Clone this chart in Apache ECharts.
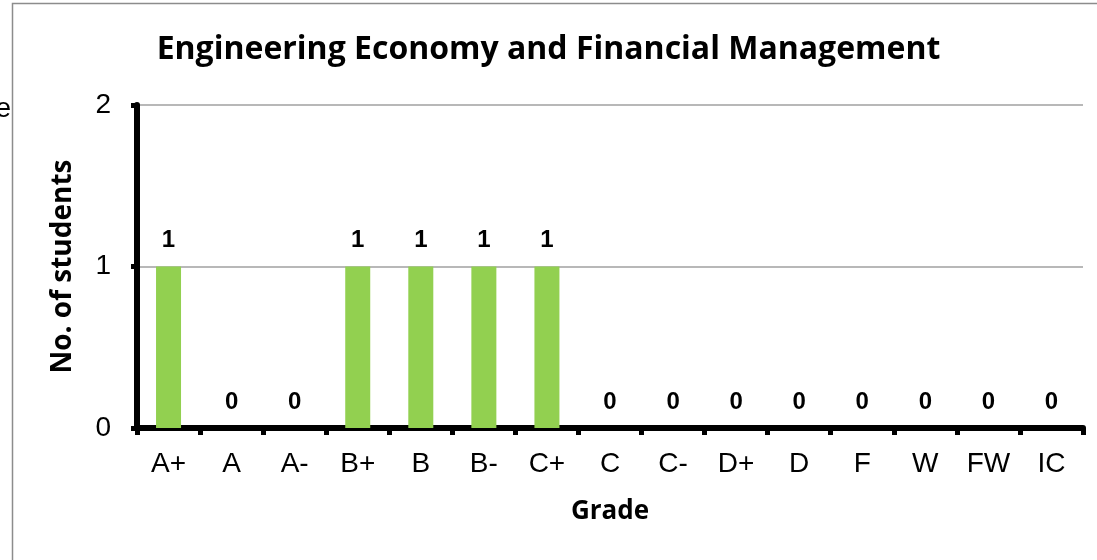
<!DOCTYPE html>
<html>
<head>
<meta charset="utf-8">
<script src="https://cdn.jsdelivr.net/npm/echarts@6/dist/echarts.min.js"></script>
<style>
  html, body { margin: 0; padding: 0; background: #fff; }
  #chart { width: 1097px; height: 560px; }
</style>
</head>
<body>
<div id="chart"></div>
<script>
const grades = ['A+', 'A', 'A-', 'B+', 'B', 'B-', 'C+', 'C', 'C-', 'D+', 'D', 'F', 'W', 'FW', 'IC']
const students = [1, 0, 0, 1, 1, 1, 1, 0, 0, 0, 0, 0, 0, 0, 0]
const yTicks = [0, 1, 2]

const chart = echarts.init(document.getElementById('chart'))
chart.setOption({
  animation: false,
  backgroundColor: '#fff',
  graphic: [
    { type: 'rect', shape: { x: 12.5, y: 3.5, width: 1200, height: 700 },
      style: { fill: 'none', stroke: '#8c8c8c', lineWidth: 1.5 } },
    { type: 'text', x: 11, y: 109,
      style: { text: 'ne', align: 'right', verticalAlign: 'middle',
        font: '28px "Liberation Sans"', fill: '#000' } }
  ],
  title: {
    text: 'Engineering Economy and Financial Management',
    left: 'center', top: 29,
    textStyle: { fontFamily: 'Open Sans', fontWeight: 'bold', fontSize: 32, color: '#000' }
  },
  grid: { left: 137, right: 14, top: 105, bottom: 132, containLabel: false },
  xAxis: {
    type: 'category', data: grades,
    name: 'Grade', nameLocation: 'middle', nameGap: 71,
    nameTextStyle: { fontFamily: 'Open Sans', fontWeight: 'bold', fontSize: 26, color: '#000' },
    axisLine: { lineStyle: { color: '#000', width: 6 } },
    axisTick: { show: true, length: 7, lineStyle: { color: '#000', width: 5 } },
    axisLabel: { margin: 22, fontFamily: 'Liberation Sans', fontSize: 28, color: '#000' }
  },
  yAxis: {
    type: 'value', min: yTicks[0], max: yTicks[yTicks.length - 1], interval: 1,
    name: 'No. of students', nameLocation: 'middle', nameGap: 60, nameRotate: 90,
    nameTextStyle: { fontFamily: 'Open Sans', fontWeight: 'bold', fontSize: 28, color: '#000' },
    axisLine: { show: true, lineStyle: { color: '#000', width: 6 } },
    axisTick: { show: true, length: 6, lineStyle: { color: '#000', width: 5 } },
    axisLabel: { margin: 26, fontFamily: 'Liberation Sans', fontSize: 28, color: '#000' },
    splitLine: { show: true, lineStyle: { color: '#a0a0a0', width: 1.5 } }
  },
  series: [{
    type: 'bar', data: students, barWidth: 25,
    itemStyle: { color: '#92d050' },
    label: {
      show: true, position: 'top', distance: 14,
      fontFamily: 'Liberation Sans', fontWeight: 'bold', fontSize: 24, color: '#000'
    }
  }]
})
</script>
</body>
</html>
